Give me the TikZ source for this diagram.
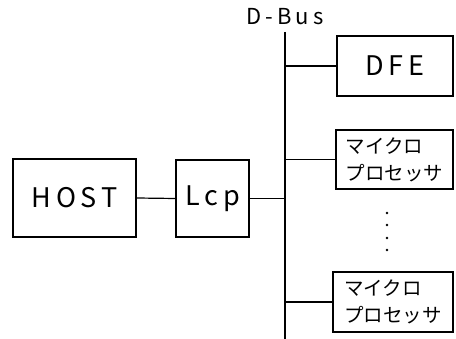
\documentclass[tikz,border=0pt]{standalone}
\usepackage{fontspec}
\setmainfont{Noto Sans CJK JP}
\newfontfamily\widefont[LetterSpace=18]{Noto Sans CJK JP}
\usepackage{tikz}
\usetikzlibrary{positioning}

\begin{document}
\begin{tikzpicture}[x=1pt, y=-1pt, line width=1.2pt,
  blk/.style={draw=black, rectangle, inner sep=0pt, align=center},
  lbl/.style={font=\widefont\fontsize{27}{28}\selectfont},
  jlbl/.style={font=\fontsize{19.5}{27}\selectfont, align=left},
  link/.style={draw=black, line width=1.2pt}]
\useasboundingbox (0,0) rectangle (456,339);
% left side
\node[blk, lbl, minimum width=123pt, minimum height=78pt] (host) at (74.5,198) {HOST};
\node[blk, lbl, minimum width=73pt, minimum height=77pt] (lcp) at (212.5,198.5) {Lcp};
% bus
\coordinate (bustop) at (285,32);
\coordinate (busbot) at (285,339);
\node[font=\widefont\fontsize{22}{22}\selectfont] (buslbl) at (285,17) {D-Bus};
% right side
\node[blk, lbl, minimum width=116pt, minimum height=60pt] (dfe) at (395,66) {DFE};
\node[blk, jlbl, minimum width=117pt, minimum height=59pt] (mp1) at (394.5,159.5) {マイクロ\\プロセッサ};
\node[blk, jlbl, minimum width=120pt, minimum height=60pt] (mp2) at (393,302) {マイクロ\\プロセッサ};
\foreach \yy in {213,225,238,250}
  \fill (387,\yy) circle (1.3pt);
\draw[link] (bustop) -- (busbot);
\draw[link] (host.east) -- (lcp.west);
\draw[link] (lcp.east) -- (lcp.east -| bustop);
\draw[link] (dfe.west) -- (dfe.west -| bustop);
\draw[link] (mp1.west) -- (mp1.west -| bustop);
\draw[link] (mp2.west) -- (mp2.west -| bustop);
\end{tikzpicture}
\end{document}
